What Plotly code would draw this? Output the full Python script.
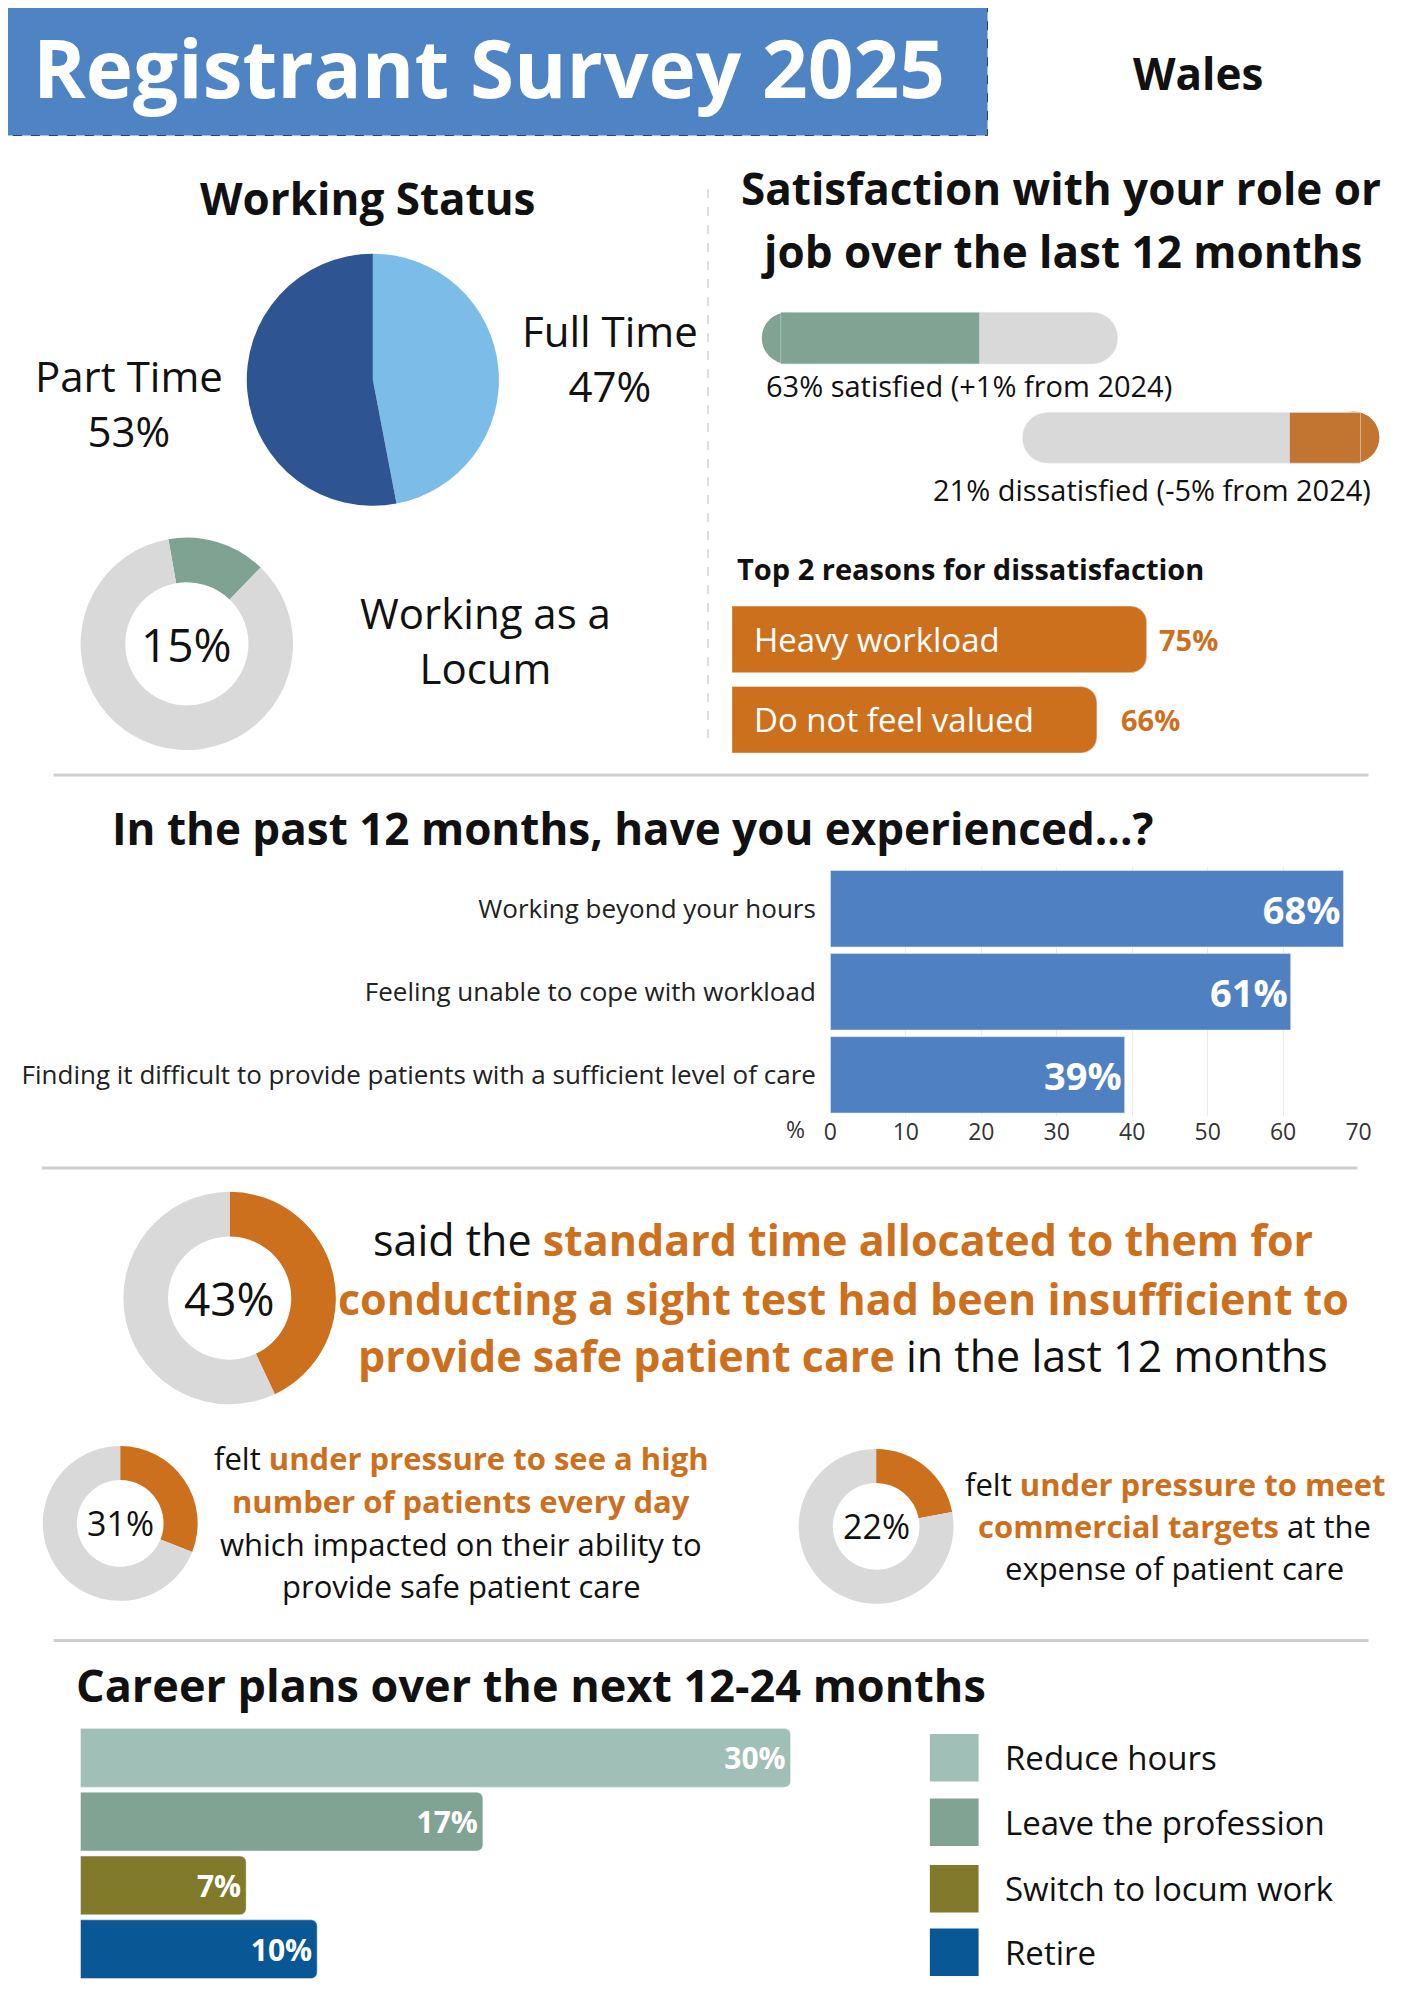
import plotly.graph_objects as go

W, H = 1414, 2000
PAD = 8
FW, FH = W - 2 * PAD, H - 2 * PAD
FONT = "Open Sans"
ORANGE = "#CD701E"
BLUE = "#4F81C2"
GREY = "#D9D9D9"

# ---- data ----
status_labels = ["Full Time", "Part Time"]
status_values = [47, 53]
locum_pct = 15
satisfied_pct = 63
dissatisfied_pct = 21
reasons = ["Heavy workload", "Do not feel valued"]
reason_values = [75, 66]
exp_labels = ["Working beyond your hours", "Feeling unable to cope with workload",
              "Finding it difficult to provide patients with a sufficient level of care"]
exp_values = [68, 61, 39]
exp_ticks = [0, 10, 20, 30, 40, 50, 60, 70]
time_pct = 43
pressure_patients_pct = 31
pressure_targets_pct = 22
career_labels = ["Reduce hours", "Leave the profession", "Switch to locum work", "Retire"]
career_values = [30, 17, 7, 10]
career_colors = ["#A0BFB6", "#80A393", "#807A2A", "#0A5796"]

def px_x(x):
    x = (x - 7.3) / 0.991
    return (x - PAD) / FW
def px_y(y):
    y = 73 + (y - 73) / 1.0073
    return 1 - (y - PAD) / FH
def cl(v): return min(1.0, max(0.0, v))

fig = go.Figure()
shapes, ann = [], []

def text(x, y, s, size, color="#111", bold=False, xanchor="center", yanchor="middle", family=FONT):
    if bold:
        s = "<b>" + s + "</b>"
    ann.append(dict(x=px_x(x), y=px_y(y), xref="paper", yref="paper", text=s, showarrow=False,
                    xanchor=xanchor, yanchor=yanchor, font=dict(size=size, color=color, family=family)))

def rect(x0, y0, x1, y1, color, line=None):
    shapes.append(dict(type="rect", xref="paper", yref="paper", x0=px_x(x0), x1=px_x(x1),
                       y0=px_y(y1), y1=px_y(y0), fillcolor=color, line=line or dict(width=0), layer="below"))

def hline(y, x0, x1, color="#CFCFCF", width=3, dash="solid"):
    shapes.append(dict(type="line", xref="paper", yref="paper", x0=px_x(x0), x1=px_x(x1),
                       y0=px_y(y), y1=px_y(y), line=dict(color=color, width=width, dash=dash)))

def donut(cx, cy, r, pct, color, hole, rotation=0, label=None, lsize=40):
    fig.add_trace(go.Pie(values=[pct, 100 - pct], marker=dict(colors=[color, GREY]),
                         hole=hole, sort=False, direction="clockwise", rotation=rotation,
                         textinfo="none", hoverinfo="skip", showlegend=False,
                         domain=dict(x=[cl(px_x(cx - r)), cl(px_x(cx + r))],
                                     y=[cl(px_y(cy + r)), cl(px_y(cy - r))])))
    if label:
        text(cx, cy, label, lsize)

# ---- header ----
rect(-5, -5, 993, 136, "#4E83C4", line=dict(color="#2a3f60", width=1, dash="dash"))
text(492, 66, "Registrant Survey 2025", 80, color="white", bold=True)
text(1205, 73, "Wales", 44, bold=True)

# ---- working status ----
text(370, 199, "Working Status", 44, bold=True)
fig.add_trace(go.Pie(labels=status_labels, values=status_values, sort=False, direction="clockwise",
                     rotation=0, marker=dict(colors=["#7BBDE8", "#2E5491"]), textinfo="none",
                     hoverinfo="skip", showlegend=False,
                     domain=dict(x=[px_x(248), px_x(502)], y=[px_y(509), px_y(255)])))
text(613, 360, f"{status_labels[0]}<br>{status_values[0]}%", 42)
text(130, 405, f"{status_labels[1]}<br>{status_values[1]}%", 42)

donut(188, 648, 107, locum_pct, "#7FA293", 0.58, rotation=-10, label=f"{locum_pct}%", lsize=46)
text(488, 644, "Working as a<br>Locum", 42)

shapes.append(dict(type="line", xref="paper", yref="paper", x0=px_x(712), x1=px_x(712),
                   y0=px_y(190), y1=px_y(745), line=dict(color="#BBBBBB", width=1, dash="dash")))

# ---- satisfaction ----
text(1067, 189, "Satisfaction with your role or", 44, bold=True)
text(1067, 252, "job over the last 12 months", 44, bold=True)

def axis_pair(idx, x0, x1, y0, y1, xr, reverse=False):
    xa = "xaxis" if idx == 1 else f"xaxis{idx}"
    ya = "yaxis" if idx == 1 else f"yaxis{idx}"
    fig.layout[xa] = dict(domain=[cl(px_x(x0)), cl(px_x(x1))], range=xr[::-1] if reverse else xr,
                          visible=False, fixedrange=True, anchor=f"y{'' if idx == 1 else idx}")
    fig.layout[ya] = dict(domain=[cl(px_y(y1)), cl(px_y(y0))], visible=False, fixedrange=True,
                          anchor=f"x{'' if idx == 1 else idx}")
    s = "" if idx == 1 else str(idx)
    return "x" + s, "y" + s

GAP = 0.08
def single_dom(y0, y1):
    h = (y1 - y0) / (1 - GAP)
    c = (y0 + y1) / 2
    return c - h / 2, c + h / 2

def cap(cx, cy, r, color):
    shapes.append(dict(type="circle", xref="paper", yref="paper", x0=px_x(cx - r), x1=px_x(cx + r),
                       y0=px_y(cy + r), y1=px_y(cy - r), fillcolor=color, line=dict(width=0), layer="below"))

# satisfied
d0, d1 = single_dom(314, 366)
xa, ya = axis_pair(1, 785, 1124, d0, d1, [0, 100])
cap(792, 340, 26, "#80A393")
fig.add_trace(go.Bar(x=[100], y=["s"], orientation="h", marker=dict(color=GREY, cornerradius=26),
                     xaxis=xa, yaxis=ya, hoverinfo="skip", showlegend=False))
fig.add_trace(go.Bar(x=[satisfied_pct - 4], y=["s"], orientation="h", marker=dict(color="#80A393", cornerradius=26),
                     xaxis=xa, yaxis=ya, hoverinfo="skip", showlegend=False))
text(768, 388, f"{satisfied_pct}% satisfied (+1% from 2024)", 29, xanchor="left")

# dissatisfied
d0, d1 = single_dom(415, 466)
xa, ya = axis_pair(2, 1028, 1368, d0, d1, [0, 100], reverse=True)
cap(1361, 440, 26, "#C27530")
fig.add_trace(go.Bar(x=[100], y=["d"], orientation="h", marker=dict(color=GREY, cornerradius=26),
                     xaxis=xa, yaxis=ya, hoverinfo="skip", showlegend=False))
fig.add_trace(go.Bar(x=[dissatisfied_pct], y=["d"], orientation="h", marker=dict(color="#C27530", cornerradius=26),
                     xaxis=xa, yaxis=ya, hoverinfo="skip", showlegend=False))
text(1381, 493, f"{dissatisfied_pct}% dissatisfied (-5% from 2024)", 29, xanchor="right")

# reasons
text(739, 572, "Top 2 reasons for dissatisfaction", 29, bold=True, xanchor="left")
for i, (lab, v) in enumerate(zip(reasons, reason_values)):
    y0, y1 = [(610, 677), (691, 758)][i]
    d0, d1 = single_dom(y0, y1)
    xa, ya = axis_pair(3 + i, 736, 1292, d0, d1, [0, 100])
    fig.add_trace(go.Bar(x=[v], y=[lab], orientation="h", marker=dict(color=ORANGE, cornerradius=16),
                         xaxis=xa, yaxis=ya, hoverinfo="skip", showlegend=False))
    text(756, (y0 + y1) / 2, lab, 33, color="white", xanchor="left")
    ann.append(dict(x=v, y=lab, xref=xa, yref=ya, text=f"<b>{v}%</b>", showarrow=False,
                    xanchor="left", xshift=[10, 22][i], font=dict(size=29, color=ORANGE, family=FONT)))

hline(780, 54, 1376)

# ---- experienced ----
text(636, 834, "In the past 12 months, have you experienced...?", 44, bold=True)
fig.layout["xaxis5"] = dict(domain=[px_x(835), px_x(1366)], range=[0, 70], tickvals=exp_ticks,
                            showgrid=True, gridcolor="#EBEBEB", zeroline=False, showline=False,
                            tickfont=dict(size=23, color="#333", family=FONT), anchor="y5",
                            ticks="", fixedrange=True)
fig.layout["yaxis5"] = dict(domain=[px_y(1124), px_y(873)], autorange="reversed", anchor="x5",
                            tickfont=dict(size=26, color="#222", family=FONT), ticks="",
                            showline=False, fixedrange=True, ticksuffix="  ")
fig.add_trace(go.Bar(x=exp_values, y=exp_labels, orientation="h", marker=dict(color=BLUE),
                     text=[f"<b>{v}%</b>" for v in exp_values], textposition="inside",
                     insidetextanchor="end", textfont=dict(size=38, color="white", family=FONT),
                     xaxis="x5", yaxis="y5", hoverinfo="skip", showlegend=False))
text(800, 1137, "%", 23, color="#333")

hline(1176, 42, 1365)

# ---- sight test ----
donut(231, 1307, 107, time_pct, ORANGE, 0.58, label=f"{time_pct}%", lsize=46)
O = lambda s: f"<b><span style='color:{ORANGE}'>{s}</span></b>"
text(848, 1248, "said the " + O("standard time allocated to them for"), 43)
text(848, 1307, O("conducting a sight test had been insufficient to"), 43)
text(848, 1365, O("provide safe patient care") + " in the last 12 months", 43)

donut(121, 1534, 78, pressure_patients_pct, ORANGE, 0.56, label=f"{pressure_patients_pct}%", lsize=34)
text(464, 1468, "felt " + O("under pressure to see a high"), 31)
text(464, 1511, O("number of patients every day"), 31)
text(464, 1555, "which impacted on their ability to", 31)
text(464, 1597, "provide safe patient care", 31)

donut(881, 1537, 78, pressure_targets_pct, ORANGE, 0.56, label=f"{pressure_targets_pct}%", lsize=34)
text(1181, 1494, "felt " + O("under pressure to meet"), 31)
text(1181, 1537, O("commercial targets") + " at the", 31)
text(1181, 1579, "expense of patient care", 31)

hline(1652, 54, 1376)

# ---- career ----
text(75, 1696, "Career plans over the next 12-24 months", 45, bold=True, xanchor="left")
fig.layout["xaxis6"] = dict(domain=[px_x(81), px_x(795)], range=[0, 30], visible=False, anchor="y6", fixedrange=True)
fig.layout["yaxis6"] = dict(domain=[cl(px_y(1995)), px_y(1738)], autorange="reversed", visible=False,
                            anchor="x6", fixedrange=True)
fig.add_trace(go.Bar(x=career_values, y=career_labels, orientation="h",
                     marker=dict(color=career_colors, cornerradius=6),
                     text=[f"<b>{v}%</b>" for v in career_values], textposition="inside",
                     insidetextanchor="end", textfont=dict(size=30, color="white", family=FONT),
                     xaxis="x6", yaxis="y6", hoverinfo="skip", showlegend=False))
for i, (lab, c) in enumerate(zip(career_labels, career_colors)):
    cy = [1770, 1835, 1902, 1966][i]
    shapes.append(dict(type="rect", xref="paper", yref="paper", x0=px_x(935), x1=px_x(984),
                       y0=px_y(cy + 24), y1=px_y(cy - 24), fillcolor=c, line=dict(width=0)))
    text(1009, cy, lab, 33, xanchor="left")

fig.update_layout(width=FW, height=FH, margin=dict(l=0, r=0, t=0, b=0), paper_bgcolor="white",
                  plot_bgcolor="rgba(0,0,0,0)", barmode="overlay", bargap=GAP,
                  shapes=shapes, annotations=ann, font=dict(family=FONT), uniformtext=dict(mode=False))
fig.write_html("out.html", config={"displayModeBar": False})
